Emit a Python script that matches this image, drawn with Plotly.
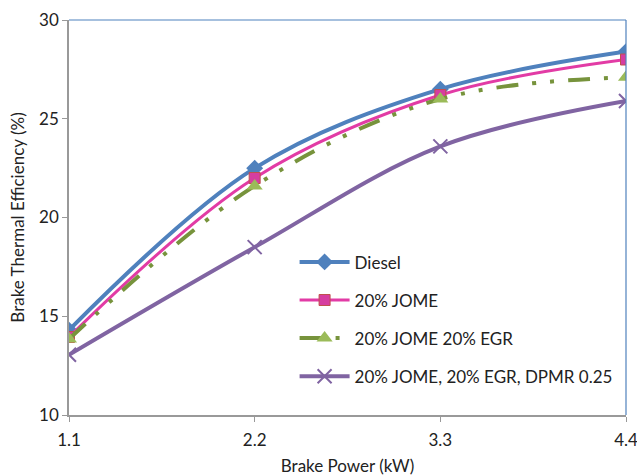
import plotly.graph_objects as go

power = [1.1, 2.2, 3.3, 4.4]
diesel = [14.3, 22.5, 26.5, 28.4]
jome = [13.95, 22.0, 26.2, 28.0]
jome_egr = [13.85, 21.6, 26.0, 27.1]
jome_egr_dpmr = [13.05, 18.5, 23.6, 25.9]
names = ["Diesel", "20% JOME", "20% JOME 20% EGR", "20% JOME, 20% EGR, DPMR 0.25"]
x_ticks = [1.1, 2.2, 3.3, 4.4]
y_ticks = [10, 15, 20, 25, 30]

font = "Lato"
fs = 17
fig = go.Figure()
fig.add_trace(go.Scatter(x=power, y=diesel, name=names[0], mode="lines+markers", legendgroup="a",
    line=dict(color="#4F81BD", width=4, shape="spline"),
    marker=dict(symbol="diamond", size=13, color="#4F81BD")))
fig.add_trace(go.Scatter(x=power, y=jome, name=names[1], mode="lines+markers", legendgroup="b",
    line=dict(color="#E23BA5", width=3, shape="spline"),
    marker=dict(symbol="square", size=11, color="#D63DA0", line=dict(color="#C0504D", width=1))))
fig.add_trace(go.Scatter(x=power, y=jome_egr, name=names[2], mode="lines+markers", legendgroup="c",
    line=dict(color="#77933C", width=4, shape="spline", dash="22px,14px,4px,14px,4px,14px"),
    marker=dict(symbol="triangle-up", size=14, color="#9BBB59")))
fig.add_trace(go.Scatter(x=power, y=jome_egr_dpmr, name=names[3], mode="lines+markers", legendgroup="d",
    line=dict(color="#8064A2", width=4, shape="spline"),
    marker=dict(symbol="x-thin-open", size=14, line=dict(color="#8064A2", width=2))))

axis_common = dict(showgrid=False, zeroline=False, showline=True, linecolor="#999999", linewidth=1.5,
                   ticks="outside", tickcolor="#999999", ticklen=5, automargin=False,
                   ticklabeloverflow="allow",
                   tickfont=dict(family=font, size=fs, color="#222"))
fig.update_xaxes(range=[1.1, 4.4], tickvals=x_ticks, ticktext=[str(v) for v in x_ticks],
                 ticklabelstandoff=4,
                 title=dict(text="Brake Power (kW)", font=dict(family=font, size=fs, color="#222"), standoff=14),
                 **axis_common)
fig.update_yaxes(range=[10, 30], tickvals=y_ticks,
                 title=dict(text="Brake Thermal Efficiency (%)", font=dict(family=font, size=fs, color="#222"), standoff=10),
                 **axis_common)
fig.add_shape(type="line", xref="paper", yref="paper", x0=0, x1=1, y0=1, y1=1, line=dict(color="#4F81BD", width=1.2))
fig.add_shape(type="line", xref="paper", yref="paper", x0=1, x1=1, y0=0, y1=1, line=dict(color="#4F81BD", width=1.2))
fig.update_layout(width=637, height=476, margin=dict(l=69, r=11, t=20, b=61),
    paper_bgcolor="white", plot_bgcolor="white",
    legend=dict(x=0.405, y=0.432, xanchor="left", yanchor="top", bgcolor="rgba(0,0,0,0)",
                font=dict(family=font, size=fs, color="#222"), tracegroupgap=13, itemwidth=50),
    showlegend=True)
fig.write_html("out.html", config={"displayModeBar": False},
               post_script="document.body.style.margin='0';document.body.style.overflow='hidden';")
